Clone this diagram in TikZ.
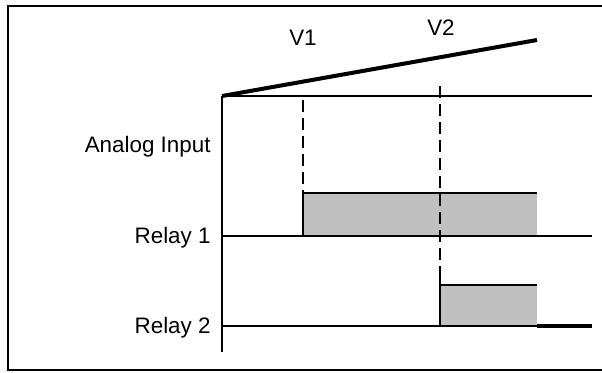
\documentclass[tikz,border=0pt]{standalone}
\usepackage{fontspec}
\setmainfont{Liberation Sans}
\begin{document}
\begin{tikzpicture}[x=0.5pt,y=-0.5pt,
  lbl/.style={anchor=east,inner sep=0pt,font=\fontsize{11.2pt}{13pt}\selectfont},
  vlbl/.style={inner sep=0pt,font=\fontsize{11.2pt}{13pt}\selectfont},
  axisline/.style={line width=1.3pt},
  relayline/.style={line width=0.9pt},
  ramp/.style={line width=2pt},
  guide/.style={line width=0.8pt,dash pattern=on 6pt off 3pt},
  onbox/.style={fill={rgb,255:red,192;green,192;blue,192},draw=none},
  edge/.style={line width=0.8pt}]
\useasboundingbox (0,0) rectangle (602,372);
% frame
\draw[line width=0.6pt] (606,6) -- (8,6) -- (8,370) -- (606,370);
% coordinates
\coordinate (o) at (222,96);
\coordinate (axend) at (592,96);
\coordinate (vbot) at (222,352);
\coordinate (rampend) at (537,40);
\coordinate (r1l) at (222,236);
\coordinate (r1r) at (592,236);
\coordinate (r2l) at (222,326);
\coordinate (r2m) at (537,326);
\coordinate (r2r) at (592,326);
\coordinate (v1top) at (303,100);
\coordinate (v1bot) at (303,193);
\coordinate (v2top) at (440,86);
\coordinate (v2bot) at (440,268);
% relay boxes
\fill[onbox] (303,193) rectangle (537,236);
\fill[onbox] (440,285) rectangle (537,326);
\draw[edge] (303,236) -- (303,193) -- (537,193);
\draw[edge] (440,268) -- (440,326);
\draw[edge] (440,285) -- (537,285);
% axes
\draw[axisline] (o) -- (axend);
\draw[axisline] (o) -- (vbot);
\draw[ramp] (o) -- (rampend);
\draw[relayline] (r1l) -- (r1r);
\draw[relayline] (r2l) -- (r2m);
\draw[line width=1.6pt] (r2m) -- (r2r);
% guides
\draw[guide] (v1top) -- (v1bot);
\draw[guide] (v2top) -- (v2bot);
% labels
\node[vlbl] (v1) at (303,38) {V1};
\node[vlbl] (v2) at (441,28) {V2};
\node[lbl] (ai) at (211,147) {Analog Input};
\node[lbl] (rl1) at (211,238) {Relay 1};
\node[lbl] (rl2) at (211,328) {Relay 2};
\end{tikzpicture}
\end{document}
